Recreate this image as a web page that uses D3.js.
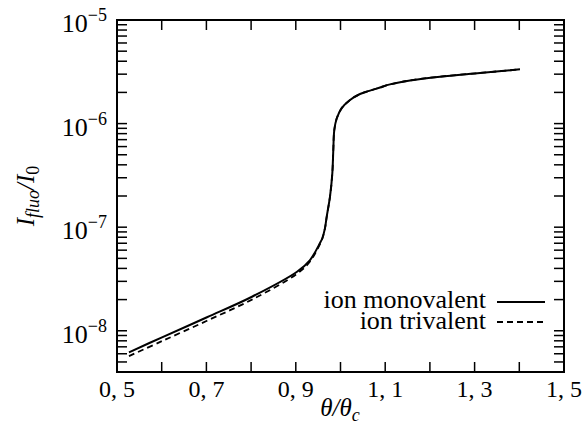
<!DOCTYPE html>
<html><head><meta charset="utf-8">
<script src="https://cdn.jsdelivr.net/npm/d3@7"></script>
<style>body{margin:0;background:#fff}</style>
</head><body><svg id="c" width="582" height="428"></svg>
<script>
// data
const xMono = [0.5268,0.6007,0.7013,0.8020,0.9027,0.9318,0.9541,0.9593,0.9653,0.9691,0.9765,0.9817,0.9839,0.9861,0.9915,1.0027,1.0213,1.0436,1.0644,1.0884,1.1107,1.1555,1.2226,1.3121,1.4016];
const yMono = [6.19e-9,8.65e-9,1.35e-8,2.13e-8,3.71e-8,4.82e-8,7.03e-8,7.82e-8,9.8e-8,1.26e-7,1.97e-7,3.31e-7,5.56e-7,8.67e-7,1.12e-6,1.41e-6,1.69e-6,1.93e-6,2.07e-6,2.23e-6,2.39e-6,2.61e-6,2.84e-6,3.08e-6,3.34e-6];
const xTri = [0.5268,0.6007,0.7013,0.8020,0.9027,0.9318,0.9541,0.9593,0.9653,0.9691,0.9765,0.9817,0.9839,0.9861,0.9915,1.0027,1.0213,1.0436,1.0644,1.0884,1.1107,1.1555,1.2226,1.3121,1.4016];
const yTri = [5.70e-9,7.95e-9,1.25e-8,2.00e-8,3.55e-8,4.66e-8,6.88e-8,7.72e-8,9.75e-8,1.26e-7,1.97e-7,3.31e-7,5.56e-7,8.67e-7,1.12e-6,1.41e-6,1.69e-6,1.93e-6,2.07e-6,2.23e-6,2.39e-6,2.61e-6,2.84e-6,3.08e-6,3.34e-6];
const xTickLabels = ["0, 5","0, 7","0, 9","1, 1","1, 3","1, 5"];
const xTickVals = [0.5,0.7,0.9,1.1,1.3,1.5];
const yDecades = [-5,-6,-7,-8];
const seriesNames = ["ion monovalent","ion trivalent"];

const FF = "'Liberation Serif'";
const svg = d3.select("#c");
const L=117,R=564,T=20,B=372;
const x = d3.scaleLinear().domain([0.5,1.5]).range([L,R]);
const y = d3.scaleLog().domain([4e-9,1e-5]).range([B,T]);
function txt(sel){ return sel.append("text").style("font-family",FF).attr("fill","#000"); }

// ticks
const tl = 10;
const g = svg.append("g").attr("stroke","#000").attr("stroke-width",1.5);
d3.range(0,11).map(i=>0.5+i*0.1).forEach(v=>{
  g.append("line").attr("x1",x(v)).attr("x2",x(v)).attr("y1",B).attr("y2",B-tl);
  g.append("line").attr("x1",x(v)).attr("x2",x(v)).attr("y1",T).attr("y2",T+tl);
});
const yt = [];
for (let e=-9;e<=-6;e++) for (let m=1;m<=9;m++){ const v=m*Math.pow(10,e); if(v>=4e-9*0.999 && v<=1e-5*1.001) yt.push(v);}
yt.push(1e-5);
yt.forEach(v=>{
  g.append("line").attr("y1",y(v)).attr("y2",y(v)).attr("x1",L).attr("x2",L+tl);
  g.append("line").attr("y1",y(v)).attr("y2",y(v)).attr("x1",R).attr("x2",R-tl);
});
svg.append("rect").attr("x",L).attr("y",T).attr("width",R-L).attr("height",B-T)
  .attr("fill","none").attr("stroke","#000").attr("stroke-width",2);

// tick labels
xTickVals.forEach((v,i)=>{
  txt(svg).attr("x",x(v)).attr("y",B+25).attr("text-anchor","middle")
    .style("font-size","24px").text(xTickLabels[i]);
});
yDecades.forEach(e=>{
  const t = txt(svg).attr("x",107).attr("y",y(Math.pow(10,e))+12).attr("text-anchor","end").style("font-size","26px");
  t.append("tspan").text("10");
  t.append("tspan").attr("dy",-11).style("font-size","18px").text("\u2212"+Math.abs(e));
});

// curves
const line = d3.line().x(d=>x(d[0])).y(d=>y(d[1])).curve(d3.curveCatmullRom.alpha(0.5));
svg.append("path").datum(xMono.map((v,i)=>[v,yMono[i]])).attr("d",line)
  .attr("fill","none").attr("stroke","#000").attr("stroke-width",2);
svg.append("path").datum(xTri.map((v,i)=>[v,yTri[i]])).attr("d",line)
  .attr("fill","none").attr("stroke","#000").attr("stroke-width",1.8).attr("stroke-dasharray","6,4");

// legend
const lg = [[302, null, 308],[322,"6,4", 329]];
seriesNames.forEach((n,i)=>{
  txt(svg).attr("x",486).attr("y",lg[i][2]).attr("text-anchor","end").style("font-size","26px").text(n);
  const l = svg.append("line").attr("x1",497).attr("x2",545).attr("y1",lg[i][0]).attr("y2",lg[i][0])
    .attr("stroke","#000").attr("stroke-width",2);
  if (lg[i][1]) l.attr("stroke-dasharray",lg[i][1]);
});

// axis labels
const xl = txt(svg).attr("x",340).attr("y",416).attr("text-anchor","middle").style("font-size","25px").style("font-style","italic");
xl.append("tspan").text("\u03b8/\u03b8");
xl.append("tspan").attr("dy",5).style("font-size","18px").text("c");
const yl = txt(svg).attr("transform","translate(34,196) rotate(-90)").attr("text-anchor","middle").style("font-size","25px").style("font-style","italic");
yl.append("tspan").text("I");
yl.append("tspan").attr("dy",5).style("font-size","18px").text("fluo");
yl.append("tspan").attr("dy",-5).text("/I");
yl.append("tspan").attr("dy",5).style("font-size","18px").style("font-style","normal").text("0");
</script></body></html>
